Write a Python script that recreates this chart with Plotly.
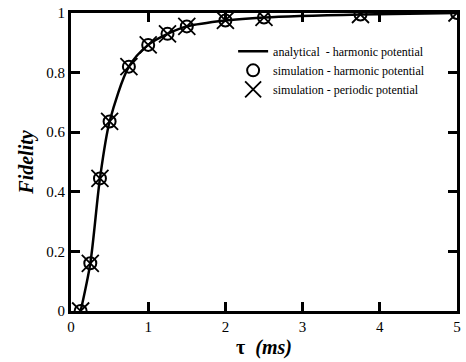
import plotly.graph_objects as go

# pulse duration (ms) and fidelity values
tau = [0.125, 0.25, 0.375, 0.5, 0.75, 1.0, 1.25, 1.5, 2.0, 2.5, 3.75, 5.0]
fid_analytical = [0.0, 0.16, 0.445, 0.636, 0.82, 0.893, 0.93, 0.955, 0.975, 0.985, 0.995, 1.0]
fid_sim_harmonic = [0.0, 0.16, 0.445, 0.636, 0.82, 0.893, 0.93, 0.955, 0.975, 0.985, 0.995, 1.0]
fid_sim_periodic = [0.0, 0.16, 0.445, 0.636, 0.82, 0.893, 0.93, 0.955, 0.975, 0.985, 0.995, 1.0]

# axis limits and tick spacing
x_min, x_max, x_major = 0, 5, 1
y_min, y_max, y_major = 0, 1, 0.2

serif = "Liberation Serif, Times New Roman, serif"

fig = go.Figure()
fig.add_trace(go.Scatter(
    x=tau, y=fid_analytical, mode="lines",
    line=dict(color="black", width=2.5, shape="spline", smoothing=0.8),
    name="analytical  - harmonic potential"))
fig.add_trace(go.Scatter(
    x=tau, y=fid_sim_harmonic, mode="markers",
    marker=dict(symbol="circle-open", size=12, color="black", line=dict(width=2)),
    name="simulation - harmonic potential"))
fig.add_trace(go.Scatter(
    x=tau, y=fid_sim_periodic, mode="markers",
    marker=dict(symbol="x-thin-open", size=17, color="black", line=dict(width=1.8)),
    name="simulation - periodic potential"))

frame = dict(showline=True, linecolor="black", linewidth=3, mirror="ticks",
             ticks="inside", ticklen=9, tickwidth=3, tickcolor="black",
             showgrid=False, zeroline=False)

fig.update_xaxes(
    autorange=True, autorangeoptions=dict(minallowed=x_min, maxallowed=x_max),
    dtick=x_major, tick0=0,
    tickfont=dict(family=serif, size=15, color="black"),
    title=dict(text="<b>τ</b>  <b><i>(ms)</i></b>",
               font=dict(family=serif, size=20, color="black"), standoff=6),
    **frame)
fig.update_yaxes(
    autorange=True, autorangeoptions=dict(minallowed=y_min, maxallowed=y_max),
    dtick=y_major, tick0=0,
    tickfont=dict(family=serif, size=15, color="black"),
    title=dict(text="<b><i>Fidelity</i></b>",
               font=dict(family=serif, size=20, color="black"), standoff=8),
    **frame)

fig.update_layout(
    template="simple_white",
    width=466, height=362,
    margin=dict(l=71, r=5, t=11, b=51),
    showlegend=True,
    legend=dict(x=0.42, y=0.92, xanchor="left", yanchor="top",
                bgcolor="rgba(0,0,0,0)", font=dict(family=serif, size=12, color="black"),
                tracegroupgap=0, itemwidth=30),
)

fig.write_html("out.html")
